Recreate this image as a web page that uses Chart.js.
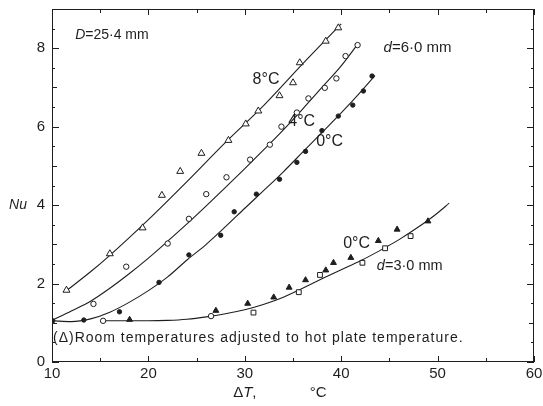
<!DOCTYPE html>
<html lang="en">
  <head>
    <meta charset="utf-8" />
    <title>Nu against temperature difference</title>
    <style>
      * {
        margin: 0;
        padding: 0;
      }
      body {
        background: #fff;
      }
      .chartBox {
        width: 543px;
        height: 406px;
      }
    </style>
  </head>
  <body>
    <div class="chartBox">
      <canvas id="myChart"></canvas>
    </div>
    <script src="https://cdn.jsdelivr.net/npm/chart.js"></script>

    <script>
      // measured points (read off the figure), D = 25.4 mm
      // 8 C, d = 6.0 mm - open triangles
      const dT8 = [11.5, 16.0, 19.4, 21.4, 23.3, 25.5, 28.3, 30.1, 31.4, 33.6, 35.0, 35.7, 38.4, 39.7];
      const nu8 = [1.83, 2.76, 3.42, 4.25, 4.86, 5.32, 5.65, 6.07, 6.40, 6.79, 7.12, 7.63, 8.18, 8.52];
      // 4 C - open circles
      const dT4 = [14.3, 17.7, 22.0, 24.2, 26.0, 28.1, 30.55, 32.6, 33.8, 35.4, 36.6, 38.3, 39.5, 40.45, 41.7];
      const nu4 = [1.48, 2.43, 3.02, 3.65, 4.28, 4.71, 5.16, 5.54, 6.0, 6.36, 6.72, 6.99, 7.23, 7.80, 8.08];
      // 0 C, d = 6.0 mm - filled dots
      const dT0 = [10.07, 13.3, 17.0, 21.1, 24.2, 27.5, 28.9, 31.2, 33.6, 35.4, 36.3, 38.0, 39.7, 41.2, 42.3, 43.2];
      const nu0 = [1.05, 1.07, 1.28, 2.03, 2.73, 3.23, 3.83, 4.28, 4.66, 5.09, 5.37, 5.90, 6.27, 6.55, 6.91, 7.29];
      // 0 C, d = 3.0 mm - filled triangles, open squares, open circles
      const dT3tri = [18.05, 27.0, 30.3, 33.0, 34.6, 36.3, 38.4, 39.2, 41.0, 43.85, 45.8, 49.0];
      const nu3tri = [1.08, 1.31, 1.49, 1.65, 1.90, 2.09, 2.34, 2.53, 2.66, 3.09, 3.38, 3.59];
      const dT3sq = [30.9, 35.6, 37.8, 42.2, 44.55, 47.2];
      const nu3sq = [1.26, 1.78, 2.22, 2.53, 2.90, 3.21];
      const dT3ring = [15.3, 26.5];
      const nu3ring = [1.05, 1.17];

      // drawn curves
      const fitX8 = [11.35, 14, 16, 20, 24, 28, 32, 36, 40];
      const fitY8 = [1.79, 2.3, 2.72, 3.63, 4.6, 5.6, 6.55, 7.6, 8.62];
      const fitX4 = [10.07, 12, 14, 16, 18, 20, 22, 24, 26, 28, 30, 32, 34, 36, 38, 40, 41.7];
      const fitY4 = [1.07, 1.3, 1.55, 1.88, 2.25, 2.65, 3.08, 3.52, 3.98, 4.45, 4.93, 5.42, 5.92, 6.45, 7.0, 7.55, 8.1];
      const fitX0 = [10.07, 12, 14, 16, 18, 20, 22, 24, 26, 28, 30, 32, 34, 36, 38, 40, 42, 43.5];
      const fitY0 = [1.05, 1.03, 1.1, 1.27, 1.52, 1.82, 2.17, 2.6, 3.0, 3.45, 3.92, 4.38, 4.85, 5.35, 5.85, 6.35, 6.88, 7.3];
      const fitX3 = [15.3, 20, 22, 24, 26, 28, 30, 32, 34, 36, 38, 40, 42, 44, 46, 48, 50, 51.2];
      const fitY3 = [1.05, 1.05, 1.06, 1.09, 1.15, 1.23, 1.33, 1.47, 1.65, 1.88, 2.12, 2.35, 2.58, 2.84, 3.12, 3.44, 3.8, 4.05];

      // axis ticks
      const xTickLabels = [10, 20, 30, 40, 50, 60];
      const yTickLabels = [0, 2, 4, 6, 8];

      const ink = "#1e1e1e";
      const font = "'Liberation Sans', Arial, sans-serif";

      function zip(xs, ys) {
        return xs.map((x, i) => ({ x: x, y: ys[i] }));
      }

      function pts(xs, ys, style, radius, filled) {
        return {
          data: zip(xs, ys),
          pointStyle: style,
          pointRadius: radius,
          pointBorderWidth: 1,
          pointBorderColor: ink,
          pointBackgroundColor: filled ? ink : "#fff",
          showLine: false,
          order: 0
        };
      }

      function curve(xs, ys) {
        return {
          data: zip(xs, ys),
          showLine: true,
          pointRadius: 0,
          borderColor: ink,
          borderWidth: 1.1,
          cubicInterpolationMode: "monotone",
          order: 1
        };
      }

      const data = {
        datasets: [
          pts(dT8, nu8, "triangle", 4, false),
          pts(dT4, nu4, "circle", 2.7, false),
          pts(dT0, nu0, "circle", 2.2, true),
          pts(dT3tri, nu3tri, "triangle", 3.4, true),
          pts(dT3sq, nu3sq, "rect", 3.4, false),
          pts(dT3ring, nu3ring, "circle", 2.7, false),
          curve(fitX8, fitY8),
          curve(fitX4, fitY4),
          curve(fitX0, fitY0),
          curve(fitX3, fitY3)
        ]
      };

      // text placed at data coordinates: [runs, x, y, align, size, spacing]
      const notes = [
        [[["D", true], ["=25·4 mm", false]], 12.4, 8.34, "left", 14, 0],
        [[["d", true], ["=6·0 mm", false]], 44.4, 8.01, "left", 15, 0],
        [[["8°C", false]], 32.2, 7.19, "center", 16, 0],
        [[["4°C", false]], 35.9, 6.13, "center", 16, 0],
        [[["0°C", false]], 38.8, 5.63, "center", 16, 0],
        [[["0°C", false]], 41.6, 3.01, "center", 16, 0],
        [[["d", true], ["=3·0 mm", false]], 43.7, 2.45, "left", 14.5, 0],
        [[["(Δ)Room temperatures adjusted to hot plate temperature.", false]], 10.1, 0.61, "left", 14, 1]
      ];

      function drawRuns(ctx, runs, px, py, align, size, spacing) {
        ctx.letterSpacing = (spacing || 0) + "px";
        let w = 0;
        runs.forEach(([t, it]) => {
          ctx.font = (it ? "italic " : "") + size + "px " + font;
          w += ctx.measureText(t).width;
        });
        let cx = align === "center" ? px - w / 2 : px;
        runs.forEach(([t, it]) => {
          ctx.font = (it ? "italic " : "") + size + "px " + font;
          ctx.fillText(t, cx, py);
          cx += ctx.measureText(t).width;
        });
        ctx.letterSpacing = "0px";
      }

      // frame, inward ticks and lettering
      const framePlugin = {
        id: "framePlugin",
        afterDraw(chart) {
          const { ctx, chartArea: a, scales: { x, y } } = chart;
          ctx.save();
          ctx.strokeStyle = ink;
          ctx.fillStyle = ink;
          ctx.lineWidth = 1;
          ctx.strokeRect(a.left + 0.5, a.top + 0.5, a.right - a.left - 1, a.bottom - a.top - 1);
          ctx.beginPath();
          x.ticks.forEach((t) => {
            const p = Math.round(x.getPixelForValue(t.value)) + 0.5;
            const len = xTickLabels.includes(t.value) ? 6 : 4;
            ctx.moveTo(p, a.bottom);
            ctx.lineTo(p, a.bottom - len);
            ctx.moveTo(p, a.top);
            ctx.lineTo(p, a.top + len);
          });
          y.ticks.forEach((t) => {
            const p = Math.round(y.getPixelForValue(t.value)) + 0.5;
            const len = yTickLabels.includes(t.value) ? 7 : Number.isInteger(t.value) ? 5 : 3;
            ctx.moveTo(a.left, p);
            ctx.lineTo(a.left + len, p);
            ctx.moveTo(a.right, p);
            ctx.lineTo(a.right - len, p);
          });
          ctx.stroke();

          ctx.textBaseline = "middle";
          notes.forEach(([runs, vx, vy, align, size, spacing]) => {
            drawRuns(ctx, runs, x.getPixelForValue(vx), y.getPixelForValue(vy), align, size, spacing);
          });

          // axis titles
          drawRuns(ctx, [["Nu", true]], 18, y.getPixelForValue(4), "center", 14, 0);
          drawRuns(ctx, [["Δ", false], ["T", true], [",", false]], x.getPixelForValue(30), a.bottom + 31, "center", 15, 0);
          drawRuns(ctx, [["°C", false]], x.getPixelForValue(37.6), a.bottom + 31, "center", 15, 0);
          ctx.restore();
        }
      };

      const config = {
        type: "scatter",
        data,
        options: {
          responsive: true,
          maintainAspectRatio: false,
          animation: false,
          layout: { padding: { top: 9, right: 9, left: 0, bottom: 0 } },
          plugins: {
            legend: { display: false },
            tooltip: { enabled: false }
          },
          scales: {
            x: {
              type: "linear",
              min: 10,
              max: 60,
              grid: { display: false, drawTicks: false },
              border: { display: false },
              ticks: {
                stepSize: 5,
                autoSkip: false,
                maxRotation: 0,
                padding: 3,
                color: ink,
                font: { family: font, size: 15 },
                callback: (v) => (xTickLabels.includes(v) ? String(v) : "")
              },
              afterFit(s) {
                s.height = 44;
                s.paddingLeft = 0;
                s.paddingRight = 0;
              }
            },
            y: {
              type: "linear",
              min: 0,
              max: 9,
              grid: { display: false, drawTicks: false },
              border: { display: false },
              ticks: {
                stepSize: 0.5,
                autoSkip: false,
                padding: 7,
                color: ink,
                font: { family: font, size: 15 },
                callback: (v) => (yTickLabels.includes(v) ? String(v) : "")
              },
              afterFit(s) {
                s.width = 52;
                s.paddingTop = 0;
                s.paddingBottom = 0;
              }
            }
          }
        },
        plugins: [framePlugin]
      };

      const myChart = new Chart(document.getElementById("myChart"), config);
    </script>
  </body>
</html>
